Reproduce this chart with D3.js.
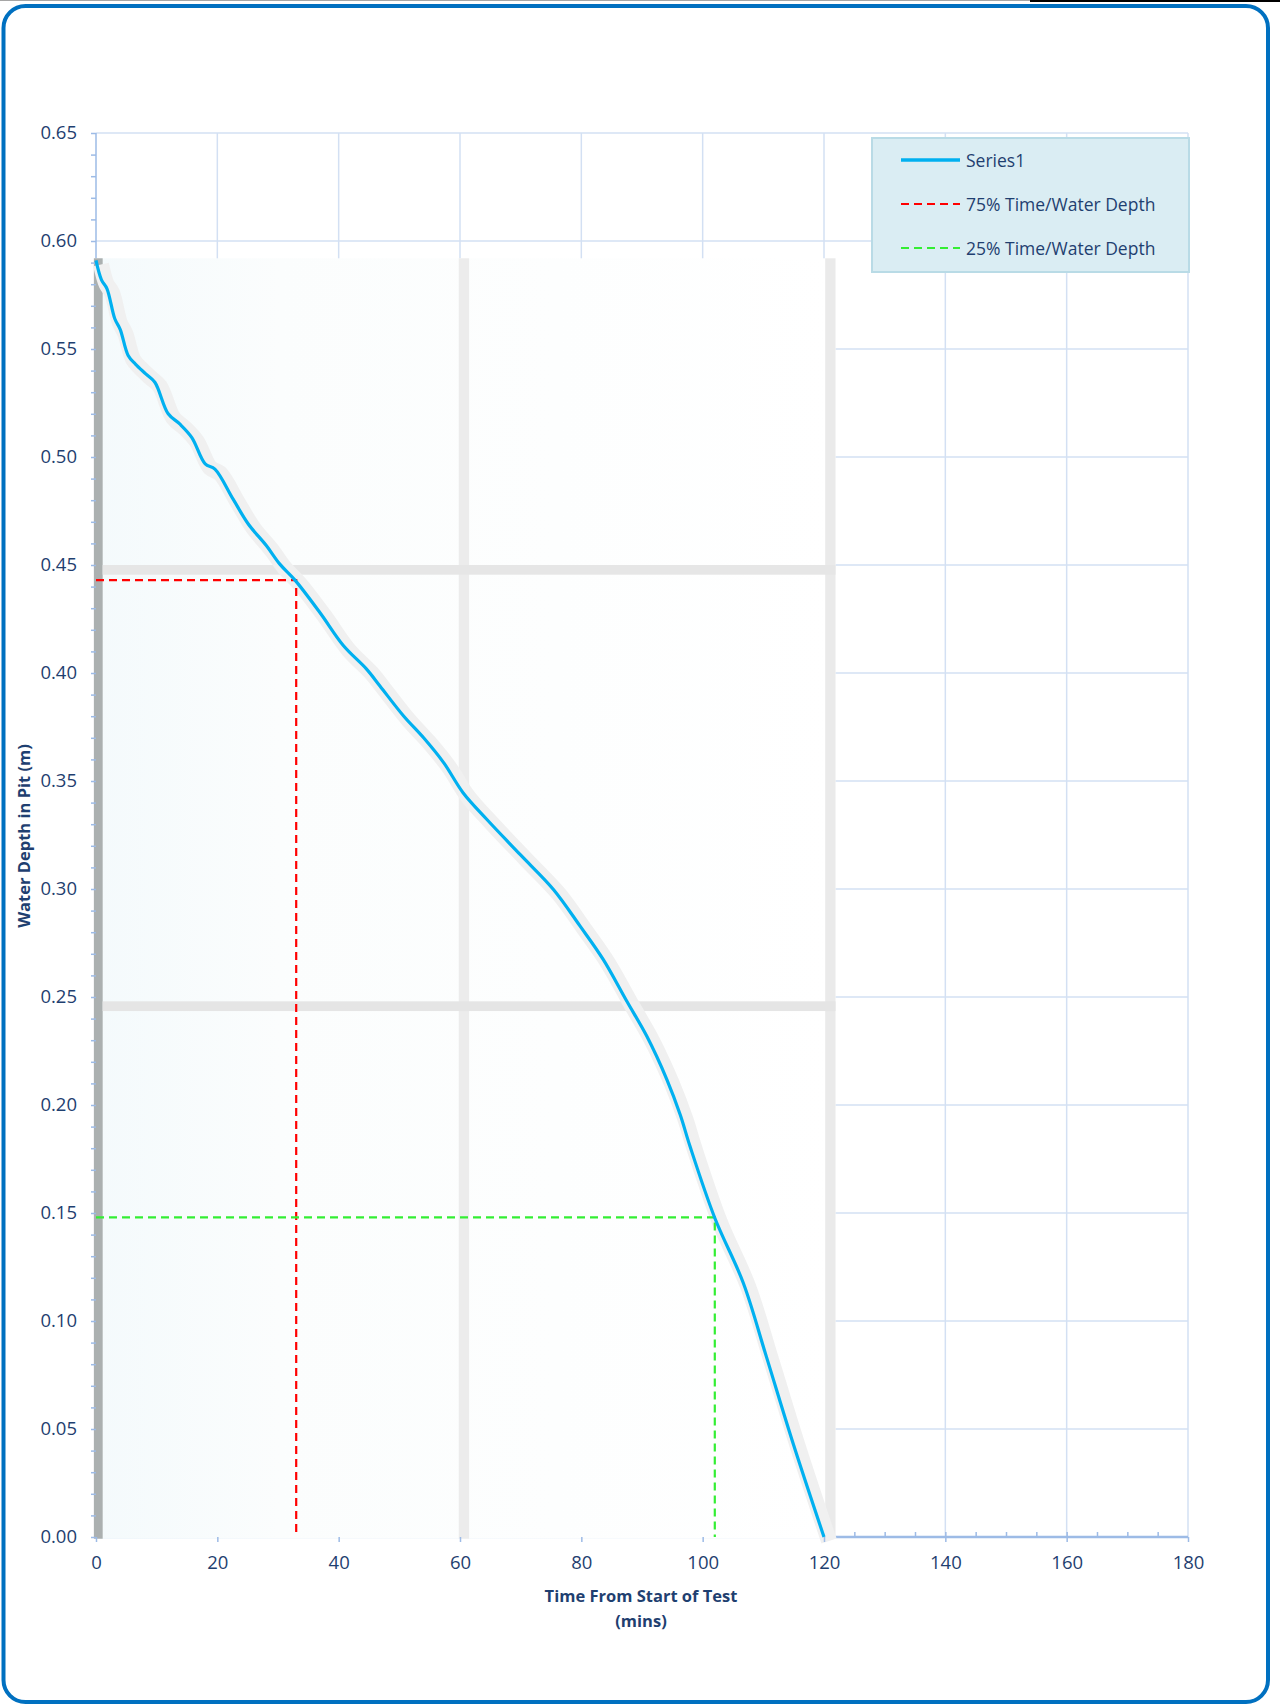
<!DOCTYPE html>
<html>
<head>
<meta charset="utf-8">
<script src="https://cdn.jsdelivr.net/npm/d3@7"></script>
<style>
  body { margin: 0; background: #fff; }
  svg { display: block; font-family: 'Open Sans', sans-serif; }
</style>
</head>
<body>
<svg width="1280" height="1707"></svg>
<script>
// values
const times = [0, 0.9, 1.8, 3.1, 4.0, 5.3, 6.5, 8.2, 9.7, 11.9, 13.8, 15.8, 18.0, 19.6, 22.6, 25.1, 28.1, 30.3, 32.8, 36.9, 40.8, 44.6, 46.8, 50.7, 54.0, 57.3, 60.5, 64.4, 69.9, 75.4, 79.8, 83.6, 87.5, 90.8, 94.1, 96.3, 97.9, 102.0, 106.7, 110.5, 114.9, 120]
const depths = [0.591, 0.582, 0.578, 0.564, 0.559, 0.547, 0.543, 0.5385, 0.5346, 0.520, 0.5153, 0.509, 0.4968, 0.4944, 0.4805, 0.469, 0.4589, 0.4504, 0.443, 0.428, 0.4126, 0.4018, 0.394, 0.3801, 0.370, 0.3585, 0.3446, 0.3323, 0.316, 0.2998, 0.2828, 0.2674, 0.248, 0.2318, 0.2118, 0.1955, 0.181, 0.1477, 0.1176, 0.0835, 0.0434, 0]
const time75 = 33
const depth75 = 0.443
const time25 = 102
const depth25 = 0.148
const xTicks = [0, 20, 40, 60, 80, 100, 120, 140, 160, 180]
const yTicks = [0, 0.05, 0.1, 0.15, 0.2, 0.25, 0.3, 0.35, 0.4, 0.45, 0.5, 0.55, 0.6, 0.65]
const legendLabels = ['Series1', '75% Time/Water Depth', '25% Time/Water Depth']
const xTitle = ['Time From Start of Test', '(mins)']
const yTitle = 'Water Depth in Pit (m)'

window.onload = function () {
  let svg = d3.select('svg')
  let textColor = '#1f3f70'
  let gridColor = '#d3e0f3'
  let axisColor = '#9dbbe6'

  let x = d3.scaleLinear().domain([0, 180]).range([96, 1188])
  let y = d3.scaleLinear().domain([0, 0.65]).range([1537, 133])

  // leftovers of the spreadsheet above the chart
  svg.append('line').attr('x1', 0).attr('x2', 1030).attr('y1', 0.5).attr('y2', 0.5)
    .attr('stroke', '#a6a6a6').attr('stroke-width', 1)
  svg.append('line').attr('x1', 1030).attr('x2', 1280).attr('y1', 1).attr('y2', 1)
    .attr('stroke', '#000').attr('stroke-width', 2)

  // gridlines
  svg.append('g').selectAll('line')
    .data(xTicks.slice(1))
    .enter().append('line')
    .attr('x1', d => x(d)).attr('x2', d => x(d))
    .attr('y1', y(0.65)).attr('y2', y(0))
    .attr('stroke', gridColor).attr('stroke-width', 1.5)
  svg.append('g').selectAll('line')
    .data(yTicks.slice(1))
    .enter().append('line')
    .attr('x1', x(0)).attr('x2', x(180))
    .attr('y1', d => y(d)).attr('y2', d => y(d))
    .attr('stroke', gridColor).attr('stroke-width', 1.5)

  // axis lines
  svg.append('line').attr('x1', x(0)).attr('x2', x(0)).attr('y1', y(0.65)).attr('y2', y(0))
    .attr('stroke', axisColor).attr('stroke-width', 1.5)
  svg.append('line').attr('x1', x(0)).attr('x2', x(180)).attr('y1', y(0)).attr('y2', y(0))
    .attr('stroke', axisColor).attr('stroke-width', 2.5)

  // minor x ticks point into the plot
  let xMinor = d3.axisBottom(x).tickValues(d3.range(5, 180, 5)).tickSize(-5).tickFormat('')
  svg.append('g').attr('transform', 'translate(0,' + y(0) + ')').call(xMinor)
    .call(g => g.select('.domain').remove())
    .selectAll('line').attr('stroke', axisColor).attr('stroke-width', 1.5)

  // the pasted picture that hides part of the plot
  let defs = svg.append('defs')
  let tint = defs.append('linearGradient').attr('id', 'tint')
    .attr('x1', '0%').attr('x2', '100%').attr('y1', '0%').attr('y2', '0%')
  tint.append('stop').attr('offset', '0%').attr('stop-color', '#f4fafc')
  tint.append('stop').attr('offset', '25%').attr('stop-color', '#fbfdfd')
  tint.append('stop').attr('offset', '100%').attr('stop-color', '#ffffff')
  let pic = svg.append('g')
  pic.append('rect')
    .attr('x', x(-0.35)).attr('y', y(0.592))
    .attr('width', x(121.9) - x(-0.35)).attr('height', y(-0.0008) - y(0.592))
    .attr('fill', 'url(#tint)')
  let bandsV = [[59.8, 61.5, '#ececec'], [120.2, 121.9, '#eaeaea'], [-0.35, 1.1, '#abb0b0']]
  pic.selectAll('.bv').data(bandsV).enter().append('rect')
    .attr('x', d => x(d[0])).attr('y', y(0.592))
    .attr('width', d => x(d[1]) - x(d[0])).attr('height', y(-0.0008) - y(0.592))
    .attr('fill', d => d[2])
  let bandsH = [[0.4455, 0.4500, '#e6e6e6'], [0.2435, 0.2480, '#e5e5e5']]
  pic.selectAll('.bh').data(bandsH).enter().append('rect')
    .attr('x', x(1.1)).attr('y', d => y(d[1]))
    .attr('width', x(121.9) - x(1.1)).attr('height', d => y(d[0]) - y(d[1]))
    .attr('fill', d => d[2])

  let points = times.map((t, i) => [t, depths[i]])
  let line = d3.line().x(d => x(d[0])).y(d => y(d[1])).curve(d3.curveCatmullRom.alpha(0.5))
  // faint gray trail of the picture
  pic.append('path')
    .attr('d', line(points))
    .attr('transform', 'translate(5,4)')
    .attr('fill', 'none')
    .attr('stroke', '#f0f0f0')
    .attr('stroke-width', 16)

  // y ticks, major and minor
  let yMinor = d3.axisLeft(y).tickValues(d3.range(0, 66).map(i => i / 100)).tickSize(5).tickFormat('')
  svg.append('g').attr('transform', 'translate(' + x(0) + ',0)').call(yMinor)
    .call(g => g.select('.domain').remove())
    .selectAll('line').attr('stroke', axisColor).attr('stroke-width', 1.5)
  let yAxis = d3.axisLeft(y).tickValues(yTicks).tickSize(0).tickPadding(19).tickFormat(d3.format('.2f'))
  svg.append('g').attr('transform', 'translate(' + x(0) + ',0)').call(yAxis)
    .call(g => g.select('.domain').remove())
    .selectAll('text').attr('fill', textColor).style('font-size', '18.5px').attr('font-family', 'Open Sans')

  // major x ticks below the axis
  let xAxis = d3.axisBottom(x).tickValues(xTicks).tickSize(5).tickPadding(14).tickFormat(d3.format('d'))
  let xg = svg.append('g').attr('transform', 'translate(0,' + y(0) + ')').call(xAxis)
  xg.select('.domain').remove()
  xg.selectAll('line').attr('stroke', axisColor).attr('stroke-width', 1.5)
  xg.selectAll('text').attr('fill', textColor).style('font-size', '18.5px').attr('font-family', 'Open Sans')

  // 75% and 25% guide lines
  let guides = [[time75, depth75, '#ff0000'], [time25, depth25, '#33ee33']]
  guides.forEach(function (g) {
    svg.append('path')
      .attr('d', 'M' + x(0) + ',' + y(g[1]) + 'H' + x(g[0]) + 'V' + y(0))
      .attr('fill', 'none')
      .attr('stroke', g[2])
      .attr('stroke-width', 2.2)
      .attr('stroke-dasharray', '8,5')
  })

  // water depth curve
  svg.append('path')
    .attr('d', line(points))
    .attr('fill', 'none')
    .attr('stroke', '#00b0f0')
    .attr('stroke-width', 3.2)

  // axis titles
  svg.append('text')
    .attr('transform', 'translate(23,' + ((y(0) + y(0.65)) / 2 + 1) + ') rotate(-90)')
    .attr('text-anchor', 'middle')
    .attr('dominant-baseline', 'central')
    .attr('fill', textColor)
    .style('font-size', '16.5px')
    .style('font-weight', 'bold')
    .text(yTitle)
  svg.selectAll('.xtitle').data(xTitle).enter().append('text')
    .attr('x', 641)
    .attr('y', (d, i) => 1602 + i * 25)
    .attr('text-anchor', 'middle')
    .attr('fill', textColor)
    .style('font-size', '16.5px')
    .style('font-weight', 'bold')
    .text(d => d)

  // legend
  let legend = svg.append('g')
  legend.append('rect')
    .attr('x', 872).attr('y', 138).attr('width', 317).attr('height', 134)
    .attr('fill', '#daedf3').attr('stroke', '#b9dbe6').attr('stroke-width', 2)
  let legendStyles = [['#00b0f0', null, 3.5], ['#ff0000', '8,5', 2.2], ['#33ee33', '8,5', 2.2]]
  let item = legend.selectAll('.item').data(legendLabels).enter().append('g')
    .attr('transform', (d, i) => 'translate(0,' + (160 + i * 44) + ')')
  item.append('line')
    .attr('x1', 901).attr('x2', 960)
    .attr('stroke', (d, i) => legendStyles[i][0])
    .attr('stroke-dasharray', (d, i) => legendStyles[i][1])
    .attr('stroke-width', (d, i) => legendStyles[i][2])
  item.append('text')
    .attr('x', 966)
    .attr('dominant-baseline', 'central')
    .attr('fill', textColor)
    .style('font-size', '17.5px')
    .text(d => d)

  // rounded frame
  svg.append('rect')
    .attr('x', 3.5).attr('y', 6).attr('width', 1264.5).attr('height', 1696)
    .attr('rx', 22).attr('ry', 22)
    .attr('fill', 'none')
    .attr('stroke', '#0070c0')
    .attr('stroke-width', 4)
}
</script>
</body>
</html>
